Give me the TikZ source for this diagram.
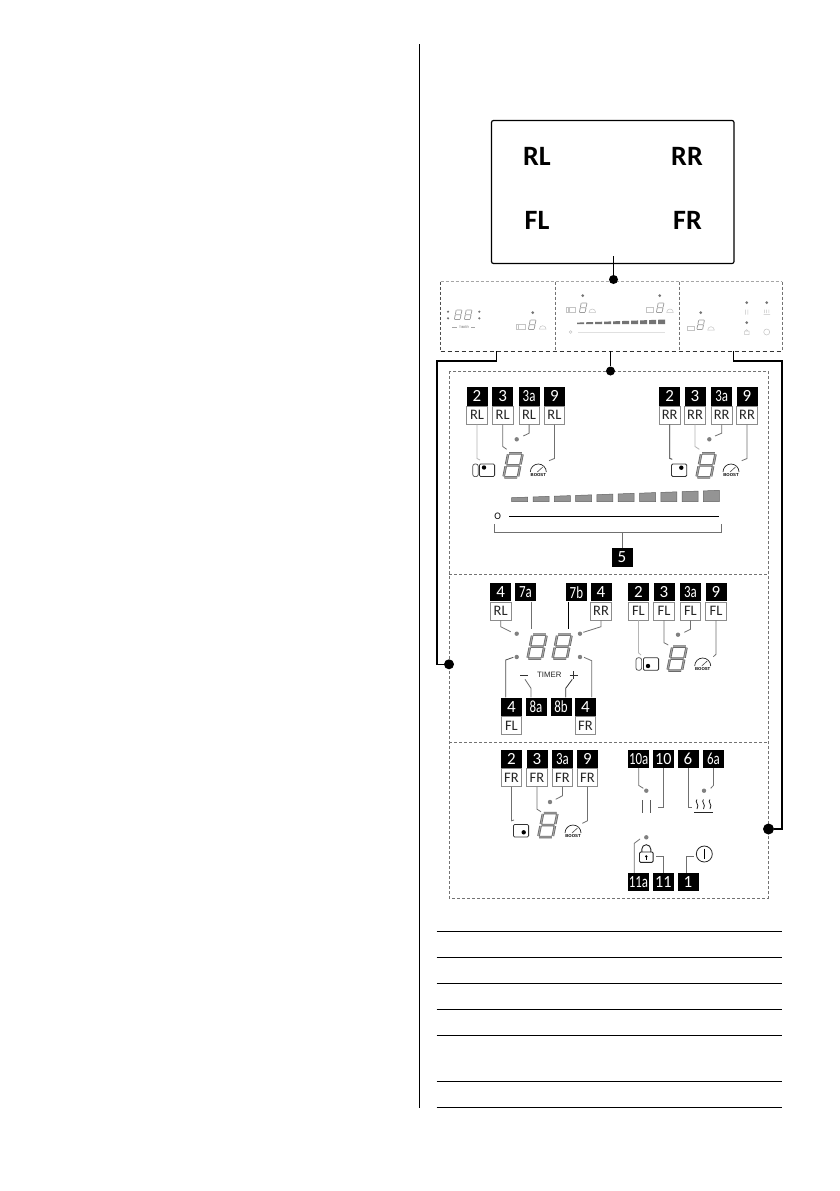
\documentclass[tikz,border=0pt]{standalone}
\usepackage{fontspec}
\usepackage{graphicx}
\setmainfont{Carlito}
\newfontfamily\arialf{Liberation Sans}
\definecolor{segd}{HTML}{626262}
\definecolor{segl}{HTML}{A0A0A0}
\definecolor{thumb}{HTML}{C4C4C4}
\definecolor{wire}{HTML}{707070}
\definecolor{wirel}{HTML}{B5B5B5}
\newcommand{\fs}[1]{\fontsize{#1}{#1}\selectfont}
% black number tag
\newcommand{\tg}[4]{\node[tagbox] (#1) at (#2,#3) {#4};}
\newcommand{\tn}[4]{\node[tagbox] (#1) at (#2,#3) {\scalebox{.76}[1]{#4}};}
% white label under a tag
\newcommand{\tl}[2]{\node[labbox] (#1l) at (#1.south) {#2};}
\newcommand{\led}[3]{\node[ledmark] (#1) at (#2,#3) {};}
% seven segment digit: x left, y top
\newcommand{\segs}[1]{\draw[#1] (1.6,1)--(14.4,1) (1.6,13)--(14.4,13) (1.6,25)--(14.4,25)
  (.8,2)--(.8,12) (15.2,2)--(15.2,12) (.8,14)--(.8,24) (15.2,14)--(15.2,24);}
\newcommand{\digit}[2]{\begin{scope}[shift={(#1+5,#2)},xslant=.2]
  \segs{segd,line width=2.5}\segs{segl,line width=1.2}\end{scope}}
\newcommand{\tdigit}[2]{\begin{scope}[shift={(#1+2,#2)},xslant=.2,scale=.4]
  \segs{thumb!80!black,line width=.8}\end{scope}}
% boost gauge: name, centre x, base y
\newcommand{\boost}[3]{\draw[line width=.7,black!85] (#2-8,#3) arc[start angle=180,end angle=0,radius=8pt];
  \draw[line width=.6,black!70] (#2-1,#3) -- (#2+4.5,#3-5);
  \node[font=\arialf\bfseries\fs{4.3},inner sep=0] (#1) at (#2,#3+3.4) {BOOST};}
\newcommand{\tboost}[2]{\draw[line width=.5,thumb] (#1-3.3,#2) arc[start angle=180,end angle=0,radius=3.3pt] -- cycle;}
% hob key: x, y, dot x, dot y
\newcommand{\keyic}[4]{\draw[line width=.8,black!80,rounded corners=1.2pt] (#1,#2) rectangle ++(15.2,12.5);
  \fill (#3,#4) circle[radius=2.2pt];}
\newcommand{\linkic}[2]{\draw[line width=.7,black!70,rounded corners=2.3pt] (#1,#2) rectangle ++(5.6,12.6);}
\newcommand{\heatw}[1]{\draw[line width=.8,black!85] (#1,799.5) .. controls (#1-3,802) and (#1+3,804) .. (#1,809);}
% connector from a node's south along a stem to a free end
\newcommand{\cn}[5][wire]{\coordinate (#2e) at (#4); \draw[conn,#1] (#2.south) -- ++(0,#3) -- (#2e);}
% connector rising from a node's north at stem x, to elbow y, to free end
\newcommand{\cnb}[5][wire]{\coordinate (#2e) at (#5); \draw[conn,#1] (#3,0 |- #2.north) -- (#3,#4) -- (#2e);}
\tikzset{
  tagbox/.style={fill=black,text=white,minimum width=21pt,minimum height=18.4pt,inner sep=0,anchor=north west,font=\fs{17}},
  labbox/.style={draw=black!45,fill=white,text=black!85,line width=.7,minimum width=20.4pt,minimum height=18pt,inner sep=0,anchor=north,font=\fs{14.5}},
  ledmark/.style={circle,fill=black!50,minimum size=4.4pt,inner sep=0},
  tledmark/.style={circle,fill=black!55,minimum size=3pt,inner sep=0},
  conn/.style={line width=.8,line join=miter},
  dotm/.style={circle,fill=black,inner sep=0},
  thick wire/.style={line width=1.1,black},
  dashg/.style={line width=.7,black!55,dash pattern=on 3pt off 2pt},
  dashk/.style={line width=1,black!80,dash pattern=on 4pt off 3pt},
  zone/.style={font=\bfseries\fs{28},inner sep=0},
}
\begin{document}
\begin{tikzpicture}[x=1pt,y=-1pt]
\useasboundingbox (0,0) rectangle (839,1191);
\fill[white] (0,0) rectangle (839,1191);
% page rule
\coordinate (ruleA) at (419.5,44); \coordinate (ruleB) at (419.5,1107.5);
\draw[line width=1,black] (ruleA) -- (ruleB);
% zone panel
\node[draw=black,line width=1.2,rounded corners=2pt,minimum width=242.5pt,minimum height=143pt,inner sep=0] (panel) at (612.75,192) {};
\node[zone] (zRL) at (537,156) {RL};
\node[zone] (zRR) at (687,156) {RR};
\node[zone] (zFL) at (537,220) {FL};
\node[zone] (zFR) at (687.5,220) {FR};
% top thumbnails
\draw[dashg,black!35] (440.5,281.5) -- (782,281.5);
\draw[dashg] (782,281.5) -- (782,351);
\draw[dashg,line width=1,black!70] (440.5,281.5) -- (440.5,351);
\draw[dashg] (555,281.5) -- (555,351);
\draw[dashg] (679.3,281.5) -- (679.3,351);
\draw[dashk] (440.5,351) -- (782,351);
% big dashed box
\draw[dashg] (449,371) rectangle (768.2,898);
\draw[dashg] (449,574.5) -- (768.2,574.5);
\draw[dashg] (449,742) -- (768.2,742);
% top dots
\node[dotm,minimum size=9pt] (d1) at (613.5,279.5) {};
\draw[line width=1.1] (panel.south -| d1) ++(0,-8) -- (d1);
\node[dotm,minimum size=9pt] (d2) at (610.5,371) {};
\coordinate (s2) at (610.5,351); \draw[thick wire] (s2) -- (d2);
\node[dotm,minimum size=10pt] (d3) at (449,664.3) {};
\coordinate (s3) at (496.5,351);
\draw[thick wire] (s3) -- (496.5,361) -- (437,361) -- (437,664.3) -- (d3);
\node[dotm,minimum size=11pt] (d4) at (768.5,829) {};
\coordinate (s4) at (733.5,351);
\draw[thick wire] (s4) -- (733.5,361) -- (782,361) -- (782,829) -- (d4);
% thumbnail 1
\foreach \x/\y in {448/311.7,448/318.3,479.3/311.7,479.3/318.3}{\fill[black!55] (\x,\y) circle[radius=1.2pt];}
\tdigit{454}{309.5}\tdigit{464}{309.5}
\node[font=\arialf\fs{3.2},text=black!60,inner sep=0] (tt1) at (464,327) {TIMER};
\draw[line width=.4,black!35] (452,327)--(457,327) (471,327)--(475,327);
\node[tledmark] (l1a) at (532.7,312.7) {};
\tdigit{528}{319.5}
\draw[line width=.5,thumb] (518.5,324.5) rectangle ++(7,5) (516.5,324.5) rectangle ++(1.6,5);
\tboost{542.7}{329}
% thumbnail 2
\node[tledmark] (l2a) at (582.7,295.7) {};
\node[tledmark] (l2b) at (659.7,295.7) {};
\tdigit{579}{302.5}\tdigit{656}{302.5}
\draw[line width=.5,thumb] (569,307.7) rectangle ++(6.5,4.6) (566.7,307.7) rectangle ++(1.6,4.6) (646.7,307.7) rectangle ++(6.5,4.6);
\tboost{592.3}{312.3}\tboost{670}{312.3}
\foreach \i in {0,...,9}{
  \pgfmathsetmacro\xa{577+9*\i}\pgfmathsetmacro\xb{\xa+7}
  \pgfmathsetmacro\ya{322.6-.035*(\xa-577)}\pgfmathsetmacro\yb{322.6-.035*(\xb-577)}
  \fill[black!55] (\xa,324)--(\xb,324)--(\xb,\yb)--(\xa,\ya)--cycle;}
\draw[line width=.5,thumb] (570.7,332) circle[radius=1.4pt];
\coordinate (tla) at (578,332); \coordinate (tlb) at (665,332);
\draw[line width=.5,black!12] (tla) -- (tlb);
% thumbnail 3
\node[tledmark] (l3a) at (700.7,312.7) {};
\tdigit{696.5}{319.5}
\draw[line width=.5,thumb] (687.7,326.7) rectangle ++(6.6,4);
\tboost{711}{330}
\node[tledmark] (l3b) at (746.7,302.7) {};
\node[tledmark] (l3c) at (766.7,302.7) {};
\node[tledmark] (l3d) at (746.7,322.7) {};
\draw[line width=.5,thumb] (745.7,309.5)--(745.7,314.5) (747.9,309.5)--(747.9,314.5)
  (764.5,309.5)--(764.5,313) (766.7,309.5)--(766.7,313) (768.9,309.5)--(768.9,313) (763.5,314.5)--(770,314.5)
  (744.5,331) rectangle ++(4.6,3.6) (745.3,331) arc[start angle=180,end angle=0,radius=1.4pt]
  (766.7,332) circle[radius=3pt];
% ---- section 1
\tg{a1}{466.3}{387}{2}\tl{a1}{RL}
\tg{a2}{492}{387}{3}\tl{a2}{RL}
\tn{a3}{518.4}{387}{3a}\tl{a3}{RL}
\tg{a4}{543.7}{387}{9}\tl{a4}{RL}
\tg{b1}{659}{387}{2}\tl{b1}{RR}
\tg{b2}{684.3}{387}{3}\tl{b2}{RR}
\tn{b3}{711}{387}{3a}\tl{b3}{RR}
\tg{b4}{736.3}{387}{9}\tl{b4}{RR}
\cn[wirel]{a1l}{34}{480,460}{}
\cn{a2l}{22}{506.7,449.3}{}
\cn{a3l}{8.7}{523.3,436}{}
\cn{a4l}{34}{549,460.7}{}
\cn[black!85]{b1l}{34}{672.3,459.3}{}
\cn[wirel]{b2l}{22}{699.3,449.3}{}
\cn{b3l}{8.7}{715,436}{}
\cn{b4l}{34}{741.7,460.7}{}
\led{la}{516.7}{439.3}
\led{lb}{709.3}{439.3}
\linkic{472.7}{464}
\keyic{479.4}{464}{484}{467.5}
\keyic{671.5}{464}{681.3}{467.7}
\digit{502.7}{452.3}
\digit{695.7}{452.3}
\boost{bo1}{538.3}{472}
\boost{bo2}{731}{472}
\foreach \i in {0,...,9}{
  \pgfmathsetmacro\xa{511.7+21.3*\i}\pgfmathsetmacro\xb{\xa+16}
  \pgfmathsetmacro\ya{497.7-.0355*(\xa-511.7)}\pgfmathsetmacro\yb{497.7-.0355*(\xb-511.7)}
  \filldraw[fill=black!42,draw=black!62,line width=.5] (\xa,501.7)--(\xb,501.7)--(\xb,\yb)--(\xa,\ya)--cycle;}
\node[font=\fs{10},inner sep=0] (zero) at (497.7,516.5) {O};
\coordinate (scA) at (509,516.7); \coordinate (scB) at (719.3,516.7);
\draw[line width=1.3,black] (scA) -- (scB);
\tg{five}{611.3}{548}{5}
\coordinate (brL) at (494.3,524); \coordinate (brR) at (721.7,524);
\draw[conn,wire] (brL) |- (brR |- 0,532.3) -- (brR);
\draw[conn,wire] (five.north) -- (five.north |- 0,532.3);
% ---- section 2
\tg{c1}{490}{582.8}{4}\tl{c1}{RL}
\tn{c2}{514.7}{582.8}{7a}
\tn{c3}{565.7}{582.8}{7b}
\tg{c4}{590.3}{582.8}{4}\tl{c4}{RR}
\tg{e1}{627.7}{582.8}{2}\tl{e1}{FL}
\tg{e2}{653.3}{582.8}{3}\tl{e2}{FL}
\tn{e3}{679.7}{582.8}{3a}\tl{e3}{FL}
\tg{e4}{705.3}{582.8}{9}\tl{e4}{FL}
\cn{c1l}{6.4}{510.7,631.7}{}
\coordinate (c2e) at (531.7,629.3); \draw[conn,wire] (c2.south -| c2e) -- (c2e);
\coordinate (c3e) at (568.3,629.3); \draw[conn,black] (c3.south -| c3e) -- (c3e);
\cn{c4l}{6.4}{583.3,632.3}{}
\led{l21}{516.7}{633.7}\led{l22}{580}{633.7}\led{l23}{516.7}{657}\led{l24}{580}{657}
\digit{526.7}{633.7}\digit{551.7}{633.7}
\coordinate (mA) at (520,675); \coordinate (mB) at (528.3,675);
\draw[line width=.9,black!80] (mA) -- (mB);
\coordinate (pA) at (569.5,675); \coordinate (pB) at (577.9,675);
\draw[line width=.9,black!80] (pA) -- (pB) (573.7,671) -- (573.7,679);
\node[font=\arialf\fs{7.8},text=black!85,inner sep=0] (timer) at (549.3,675) {TIMER};
\tg{f1}{500.7}{697.3}{4}\tl{f1}{FL}
\tn{f2}{525.3}{697.3}{8a}
\tn{f3}{550.3}{697.3}{8b}
\tg{f4}{574.7}{697.3}{4}\tl{f4}{FR}
\cnb[black!70]{f1}{505.7}{660}{513.3,657.3}
\cnb{f2}{531}{688.3}{525,679.3}
\cnb[black!80]{f3}{565.7}{688.3}{572.3,679.3}
\cnb{f4}{591.7}{660.7}{584,657.3}
\cn[wirel]{e1l}{32.4}{641,655}{}
\cn{e2l}{22.4}{668.3,645}{}
\cn{e3l}{9}{684.3,632.3}{}
\cn{e4l}{34}{713.3,656.7}{}
\led{l25}{678}{634.7}
\linkic{636}{657.7}
\keyic{643.4}{657.8}{648}{666}
\digit{666.7}{645.6}
\boost{bo3}{702.7}{666}
% ---- section 3
\tg{g1}{500.7}{749.3}{2}\tl{g1}{FR}
\tg{g2}{526.3}{749.3}{3}\tl{g2}{FR}
\tn{g3}{551.7}{749.3}{3a}\tl{g3}{FR}
\tg{g4}{576.7}{749.3}{9}\tl{g4}{FR}
\cn{g1l}{34}{514,820}{}
\cn{g2l}{22.4}{541,811.7}{}
\cn{g3l}{9}{555.7,799.3}{}
\cn{g4l}{34}{582.3,823.3}{}
\led{l31}{550}{802}
\keyic{513.4}{824.5}{523.7}{832.3}
\digit{537.5}{812}
\boost{bo4}{573}{833}
\tn{h1}{628}{749.3}{10a}
\tg{h2}{652.6}{749.3}{\scalebox{.95}[1]{10}}
\tg{h3}{677.3}{749.3}{6}
\tn{h4}{702.7}{749.3}{6a}
\cn{h1}{17.3}{643.3,788.3}{}
\coordinate (h2e) at (658.3,807.7);
\draw[conn,wire] (h2.south) |- (h2e);
\coordinate (h3e) at (692.3,807.7);
\draw[conn,wire] (h3.south) |- (h3e);
\cn{h4}{17.3}{710.7,788.3}{}
\led{l32}{646.3}{790.7}\led{l33}{704}{790.7}\led{l34}{646.3}{837.3}
\draw[line width=.8,black!65] (642.3,800)--(642.3,813.3) (650,800)--(650,813.3);
\heatw{697}\heatw{703.5}\heatw{710}
\draw[line width=.8,black!85] (694,812)--(713.3,812);
\tn{i1}{627.7}{872.8}{11a}
\tg{i2}{652.6}{872.8}{\scalebox{.95}[1]{11}}
\tg{i3}{677.3}{872.8}{1}
\cnb{i1}{634.3}{843.3}{640,839}
\coordinate (i2e) at (656,856.7);
\draw[conn,wire] (i2.north) |- (i2e);
\node[draw=black!85,circle,line width=.8,minimum size=16pt,inner sep=0] (pow) at (704.3,854) {};
\coordinate (i3e) at (694,856.7);
\draw[conn,wire] (i3e -| 686,0) |- (i3e);
\draw[conn,wire] (i3.north -| 686,0) -- (686,856.7) -- (i3e);
\draw[line width=.7,black] (pow.north) ++(0,3) -- ++(0,10);
\node[draw=black!85,line width=.9,rounded corners=1.2pt,minimum width=13.6pt,minimum height=10.4pt,inner sep=0] (lock) at (646.3,857.2) {};
\draw[line width=.9,black!85] (641.8,852)--(641.8,849.2) arc[start angle=180,end angle=0,radius=4.5pt] -- (650.8,852);
\fill (646.3,856.4) circle[radius=1.3pt];
\draw[line width=.9] (646.3,856.4)--(646.3,859.6);
% table rules
\foreach \y [count=\n] in {931,957.3,983.3,1009.3,1035.3,1081.3,1107.3}{
  \draw[line width=.9,black] (436.7,\y) -- (782,\y);}
\end{tikzpicture}
\end{document}
